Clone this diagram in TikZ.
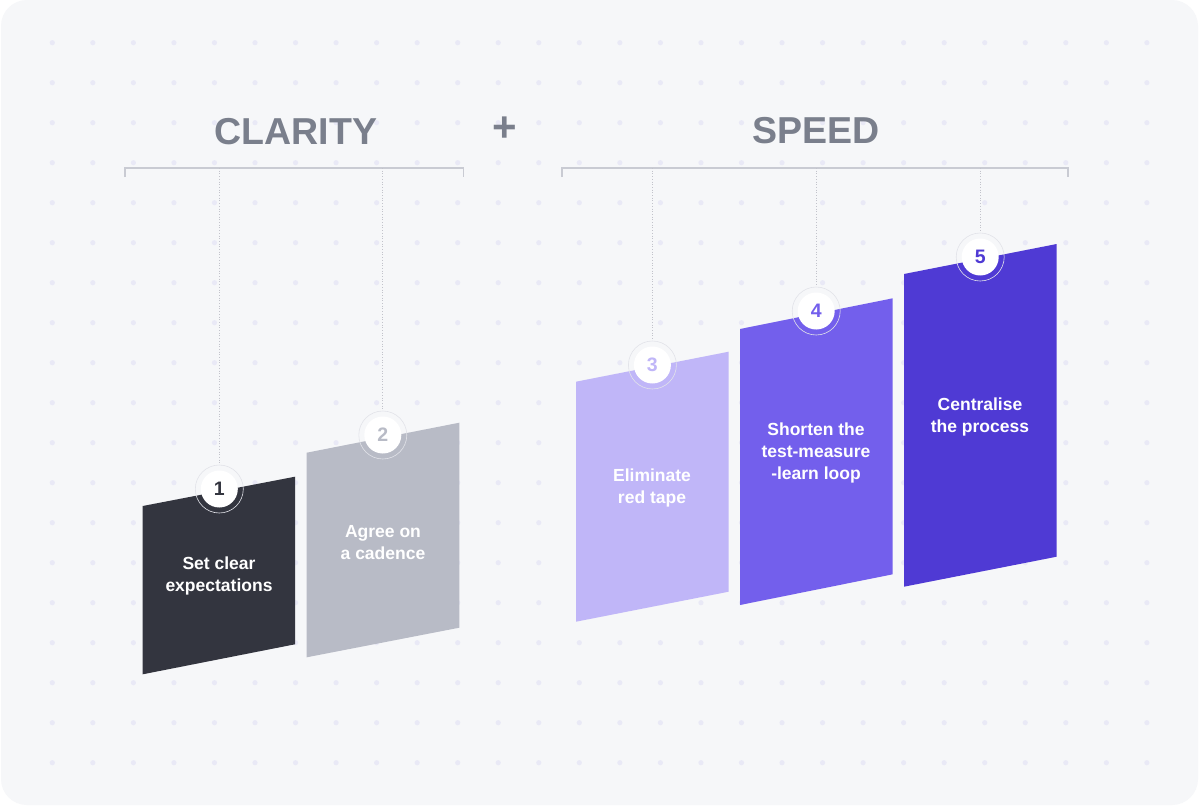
\documentclass[tikz,border=0pt]{standalone}
\usepackage{fontspec}
\setmainfont{Liberation Sans}
\definecolor{bgc}{HTML}{F6F7F9}
\definecolor{dotc}{HTML}{E9E9F6}
\definecolor{titlec}{HTML}{7A7F8C}
\definecolor{linec}{HTML}{C9CBD3}
\definecolor{ringc}{HTML}{E2E3E9}
\definecolor{barA}{HTML}{33353F}
\definecolor{barB}{HTML}{B8BBC6}
\definecolor{barC}{HTML}{C0B6F8}
\definecolor{barD}{HTML}{735FEC}
\definecolor{barE}{HTML}{4F3AD4}
\begin{document}
\begin{tikzpicture}[x=1pt,y=-1pt,
  title/.style={font=\bfseries\fontsize{37.5}{40}\selectfont, text=titlec, inner sep=0pt},
  bartext/.style={font=\bfseries\fontsize{17.5}{22}\selectfont, text=white, align=center, inner sep=0pt},
  ring/.style={circle, draw=ringc, line width=0.6pt, minimum size=48pt, inner sep=0pt},
  numdisc/.style={circle, fill=white, minimum size=37pt, inner sep=0pt, font=\bfseries\fontsize{19.5}{19.5}\selectfont},
  bracket/.style={draw=linec, line width=1.1pt},
  hang/.style={draw=linec!90!gray, line width=0.7pt, dotted}
]
\useasboundingbox (0,0) rectangle (1200,806);
\fill[white] (0,0) rectangle (1200,806);
\fill[bgc, rounded corners=26pt] (1,0) rectangle (1198,805);
% dot grid
\foreach \i in {0,...,27}{
  \foreach \j in {0,...,18}{
    \fill[dotc] ({52.3+40.54*\i},{42.7+40*\j}) circle (2.6pt);
  }
}
% titles
\node[title] (clarity) at (296,132) {CLARITY};
\node[title] (speed) at (816,131) {SPEED};
\node[font=\bfseries\fontsize{42}{42}\selectfont, text=titlec, inner sep=0pt] (plus) at (505,129) {+};
% brackets
\coordinate (bl1) at (125,177); \coordinate (bl2) at (125,168);
\coordinate (br1) at (463.5,168); \coordinate (br2) at (463.5,177);
\draw[bracket] (bl1) -- (bl2) -- (br1) -- (br2);
\coordinate (sl1) at (562,177); \coordinate (sl2) at (562,168);
\coordinate (sr1) at (1068,168); \coordinate (sr2) at (1068,177);
\draw[bracket] (sl1) -- (sl2) -- (sr1) -- (sr2);
\coordinate (h1) at (219.3,168);
\coordinate (h2) at (382.8,168);
\coordinate (h3) at (652.4,168);
\coordinate (h4) at (816.2,168);
\coordinate (h5) at (980.2,168);
% bars
\fill[barA] (142.7,506) -- (295,476.7) -- (295,644.3) -- (142.7,674.3) -- cycle;
\fill[barB] (306.7,452.7) -- (459.3,422.7) -- (459.3,627.7) -- (306.7,657.3) -- cycle;
\fill[barC] (576,381.7) -- (728.7,351.7) -- (728.7,591.7) -- (576,621.7) -- cycle;
\fill[barD] (740,329) -- (892.7,298.3) -- (892.7,574.3) -- (740,605) -- cycle;
\fill[barE] (904,274) -- (1056.7,244) -- (1056.7,556.7) -- (904,586.7) -- cycle;
% rings and discs
\node[ring] (r1) at (219.3,489) {};
\node[ring] (r2) at (382.8,435) {};
\node[ring] (r3) at (652.4,365) {};
\node[ring] (r4) at (816.2,311) {};
\node[ring] (r5) at (980.2,257) {};
\node[numdisc, text=barA] (c1) at (r1) {1};
\node[numdisc, text=barB] (c2) at (r2) {2};
\node[numdisc, text=barC] (c3) at (r3) {3};
\node[numdisc, text=barD] (c4) at (r4) {4};
\node[numdisc, text=barE] (c5) at (r5) {5};
% hanging dotted lines
\draw[hang] (h1) -- (r1.north);
\draw[hang] (h2) -- (r2.north);
\draw[hang] (h3) -- (r3.north);
\draw[hang] (h4) -- (r4.north);
\draw[hang] (h5) -- (r5.north);
% bar labels
\node[bartext] (t1) at (219,576) {Set clear\\expectations};
\node[bartext] (t2) at (383,542.5) {Agree on\\a cadence};
\node[bartext] (t3) at (652,487.5) {Eliminate\\red tape};
\node[bartext] (t4) at (816,453) {Shorten the\\test-measure\\-learn loop};
\node[bartext] (t5) at (980,416.5) {Centralise\\the process};
\end{tikzpicture}
\end{document}
